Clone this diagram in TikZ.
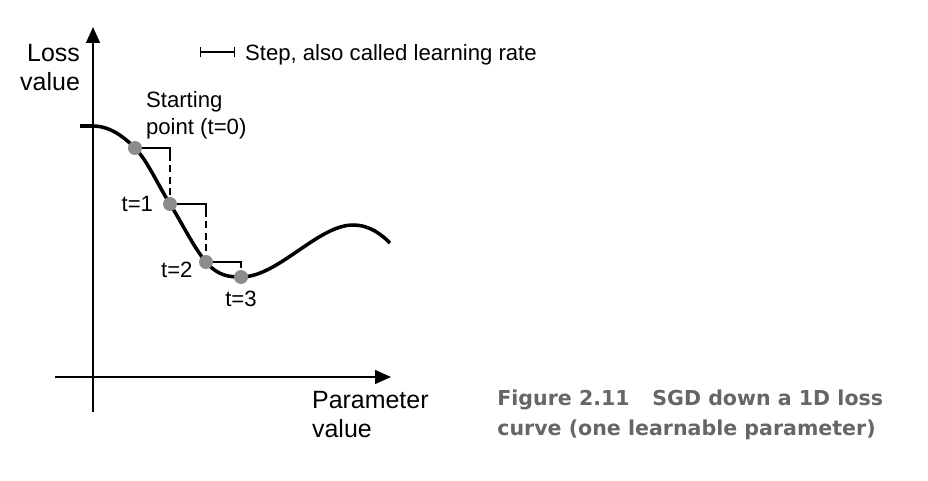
\documentclass[tikz,border=0pt]{standalone}
\usepackage{fontspec}
\setmainfont{Liberation Sans}
\newfontfamily\capfont{DejaVu Sans}
\usetikzlibrary{arrows.meta, positioning, calc}
\definecolor{dotgray}{HTML}{8C8C8C}
\definecolor{capgray}{HTML}{666666}

\begin{document}
\begin{tikzpicture}[
    x=0.02cm, y=-0.02cm,
    node distance=0.15cm,
    lbl/.style={font=\fontsize{12.6}{15.5}\selectfont, inner sep=1pt},
    axlbl/.style={font=\fontsize{14.2}{16.5}\selectfont, inner sep=1pt},
    axis/.style={-{Triangle[length=3.2mm, width=2.8mm]}, line width=0.8pt},
    dot/.style={circle, fill=dotgray, minimum size=0.28cm, inner sep=0pt},
    stepline/.style={line width=0.6pt},
    steplink/.style={line width=0.6pt, dash pattern=on 4pt off 2.5pt},
    curve/.style={line width=2pt},
    caption/.style={font=\capfont\bfseries\fontsize{11.7}{17}\selectfont, text=capgray, align=left, inner sep=0pt},
]
\useasboundingbox (0,0) rectangle (928,480);

\coordinate (xs) at (55,377);
\coordinate (xe) at (391,377);
\coordinate (ys) at (93,412);
\coordinate (ye) at (93,27);
\draw[axis] (xs) -- (xe);
\draw[axis] (ys) -- (ye);

\node[axlbl, align=right, anchor=east] (ylabel) at (82,68) {Loss\\value};
\node[axlbl, align=left, anchor=west] (xlabel) at (310,415) {Parameter\\value};

\coordinate (c0) at (135,148);
\coordinate (c1) at (170,204);
\coordinate (c2) at (206,262);
\coordinate (c3) at (241,277);

\draw[curve] (80,126) -- (93,126)
    .. controls (110,126) and (124,137) .. (c0)
    .. controls (147,160) and (158,185) .. (c1)
    .. controls (182,223) and (194,248) .. (c2)
    .. controls (218,276) and (229,277) .. (c3)
    .. controls (278,277) and (318,225) .. (353,225)
    .. controls (370,225) and (382,235) .. (390,243);

\foreach \a/\b in {c0/c1, c1/c2, c2/c3} {
    \draw[stepline] (\a) -- (\a -| \b) -- ++(0,6);
}
\foreach \a/\b in {c0/c1, c1/c2} {
    \draw[steplink] ($(\a -| \b)+(0,6)$) -- (\b);
}

\foreach \i in {0,...,3} {
    \node[dot] (d\i) at (c\i) {};
}

\node[lbl, align=left, anchor=west] (start) at (144,115) {Starting\\point (t=0)};
\node[lbl, left=of d1] (t1) {t=1};
\node[lbl, anchor=east] (t2) at ($(d2.west)+(-4,8)$) {t=2};
\node[lbl, below=0.1cm of d3] (t3) {t=3};

\coordinate (ka) at (200,52);
\coordinate (kb) at (235,52);
\draw[stepline, {Bar[width=2mm]}-{Bar[width=2mm]}] (ka) -- (kb);
\node[lbl, anchor=west] (key) at (243,55) {Step, also called learning rate};

\node[caption, anchor=west] (cap) at (497,415) {Figure 2.11\hspace{1.1em}SGD down a 1D loss\\curve (one learnable parameter)};

\end{tikzpicture}
\end{document}
